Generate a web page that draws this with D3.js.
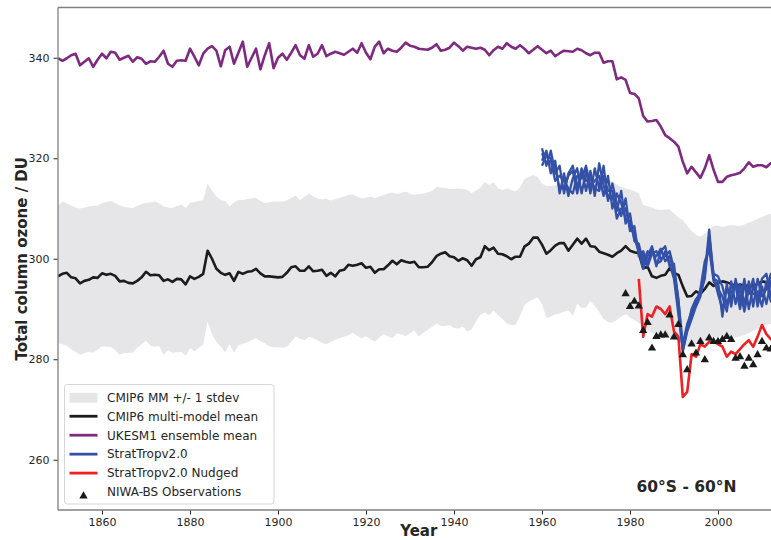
<!DOCTYPE html>
<html>
<head>
<meta charset="utf-8">
<script src="https://cdn.jsdelivr.net/npm/d3@7"></script>
<style>
  html, body { margin: 0; padding: 0; background: #ffffff; }
  svg { display: block; font-family: "DejaVu Sans", sans-serif; }
</style>
</head>
<body>
<svg id="chart" width="771" height="540"></svg>
<script>
// ---- data -------------------------------------------------------------
const startYear = 1850;           // first year of the historical runs
const xTicks = [1860, 1880, 1900, 1920, 1940, 1960, 1980, 2000];
const yTicks = [260, 280, 300, 320, 340];

// CMIP6 multi-model mean, 1850-2014 (DU)
const cmipMean = [
  296.5,297.0,297.2,296.3,296.1,295.1,295.6,295.8,296.3,296.2,
  297.1,296.8,297.0,296.6,295.5,295.6,295.2,295.1,295.6,296.3,
  297.4,296.7,296.8,296.7,295.6,295.9,295.4,296.0,295.9,294.9,
  296.5,296.0,296.4,297.0,301.6,300.0,298.0,297.2,296.8,297.1,
  295.6,297.4,297.0,297.4,297.5,298.0,297.1,296.5,296.5,296.4,
  296.3,296.4,297.2,298.3,298.5,297.6,297.6,298.5,297.5,297.6,
  297.8,296.6,297.2,296.5,297.6,297.8,298.8,298.6,298.8,299.1,
  298.2,298.4,297.2,297.9,297.9,298.7,299.6,298.9,299.7,299.4,
  299.2,299.4,298.3,298.3,298.4,299.3,300.5,301.0,301.3,300.5,
  300.3,299.6,300.1,299.7,298.6,299.9,300.3,302.5,301.7,302.2,
  301.0,300.9,300.5,299.9,300.4,300.4,302.4,303.0,304.2,304.2,
  302.8,301.0,301.7,302.6,303.1,303.1,301.6,302.8,304.0,303.0,
  304.0,302.5,302.4,301.4,301.1,300.8,300.4,301.1,301.6,302.5,
  301.6,301.3,301.1,298.1,298.4,296.5,296.2,296.6,296.8,298.1,
  297.2,296.8,294.5,292.5,292.6,293.5,293.0,294.0,295.3,294.6,
  295.2,295.5,295.3,295.0,294.6,294.8,294.7,294.5,294.6,295.0,
  295.5,295.3,295.2,295.4,295.3
];

// CMIP6 mean + 1 standard deviation
const cmipUpper = [
  310.6,311.4,311.0,310.6,310.2,310.0,310.2,310.4,310.5,310.6,
  311.1,311.3,311.5,311.1,310.6,310.3,310.2,310.1,310.5,310.9,
  311.1,311.2,311.4,311.0,310.4,310.2,310.1,310.5,310.8,310.1,
  311.1,311.3,311.5,311.7,315.0,313.6,312.4,311.7,311.5,310.4,
  311.2,311.7,311.7,311.9,312.0,312.1,311.5,311.1,311.2,311.4,
  311.4,311.4,311.6,312.1,312.6,311.7,312.3,313.0,312.4,312.0,
  311.8,311.9,311.6,311.9,312.1,312.4,312.7,312.8,312.4,312.0,
  312.2,312.4,312.1,312.4,312.7,313.0,313.2,312.9,313.1,313.4,
  313.0,312.7,312.9,313.0,313.2,313.5,314.3,314.2,314.1,313.9,
  313.9,314.0,313.9,313.7,313.1,313.6,314.2,315.3,314.7,315.2,
  314.0,313.7,314.0,313.7,313.4,314.2,315.8,316.3,316.6,316.3,
  315.0,314.5,314.5,314.6,315.0,315.3,315.5,315.8,316.0,316.2,
  316.3,316.0,315.8,316.0,316.2,315.8,315.3,314.8,314.3,314.0,
  313.8,313.5,313.0,310.7,310.5,310.2,309.8,309.7,309.8,309.8,
  309.0,308.2,307.7,306.6,305.5,304.8,304.4,305.0,305.8,306.5,
  306.6,306.3,306.5,306.7,306.6,306.5,306.8,307.2,307.5,307.9,
  308.3,308.7,309.0,309.2,309.3
];

// CMIP6 mean - 1 standard deviation
const cmipLower = [
  283.2,283.0,282.7,282.0,281.5,280.9,281.2,281.5,281.3,281.9,
  282.6,282.5,282.5,281.8,280.9,281.2,281.3,281.3,282.3,283.0,
  283.7,282.7,282.5,282.6,280.9,281.8,281.3,281.4,281.5,280.7,
  282.2,281.6,282.3,282.9,287.5,285.0,283.5,282.5,281.4,283.0,
  281.3,282.8,283.1,283.4,283.8,284.2,283.6,283.2,282.6,282.4,
  282.4,282.3,282.5,283.5,284.5,284.1,283.8,284.5,284.2,283.8,
  283.3,283.0,283.5,283.9,284.2,284.5,284.8,285.2,284.7,284.2,
  284.6,284.0,283.5,284.3,285.0,284.6,284.2,285.1,285.0,284.6,
  285.2,285.7,284.6,285.2,285.8,286.4,287.1,286.6,286.6,286.8,
  286.2,286.1,286.5,285.5,285.9,287.5,288.8,289.3,288.8,289.7,
  288.8,288.0,287.1,286.8,286.8,288.6,290.8,291.5,291.9,292.3,
  291.0,288.2,288.5,288.9,289.1,289.5,289.7,288.6,291.0,290.2,
  290.3,291.6,290.6,289.4,288.0,287.4,287.3,287.8,288.5,289.0,
  288.3,287.8,287.2,286.3,285.7,285.2,285.0,284.8,284.5,284.3,
  284.0,283.5,283.0,282.6,282.6,283.0,283.2,283.6,284.0,284.3,
  284.5,284.6,284.5,284.3,284.3,284.6,284.8,285.2,285.6,286.0,
  286.4,286.8,287.0,287.2,287.4
];

// UKESM1 ensemble mean, 1850-2014
const ukesmMean = [
  339.9,339.4,339.9,340.5,340.8,338.5,339.2,339.9,338.2,339.6,
  340.8,339.9,341.2,341.0,339.6,340.0,340.4,339.2,340.1,339.8,
  338.8,339.3,339.2,340.2,341.4,338.8,338.2,339.4,339.5,339.4,
  341.8,340.2,338.5,340.8,341.8,342.3,341.4,338.3,341.5,342.2,
  338.8,341.0,343.2,338.2,340.0,341.8,337.7,340.5,342.9,337.9,
  340.0,340.8,339.6,341.0,342.5,340.5,339.8,342.5,340.2,340.8,
  342.5,340.3,340.8,341.2,340.9,340.6,341.2,341.8,341.0,342.9,
  341.0,339.7,342.2,343.2,340.9,341.8,341.4,341.2,342.0,343.0,
  342.4,342.2,341.8,341.7,341.6,342.0,342.7,341.4,341.6,342.0,
  343.0,342.3,341.4,342.2,342.0,341.8,342.0,341.6,340.5,341.5,
  342.2,341.8,342.9,342.2,341.8,342.5,341.8,340.9,341.6,342.3,
  341.6,340.9,341.4,340.3,340.9,341.4,341.3,341.2,341.8,341.5,
  340.9,340.5,341.0,341.0,339.0,339.3,339.3,335.7,336.1,335.6,
  333.0,332.8,331.9,328.4,327.3,327.4,327.6,326.3,324.6,324.0,
  323.3,322.3,319.3,317.0,318.3,317.2,316.1,318.0,320.6,317.7,
  315.3,315.3,316.3,316.6,316.8,317.1,318.0,319.2,318.3,318.6,
  318.6,318.2,319.0,318.6,318.8
];

// StratTropv2.0 ensemble members, 1960-2014
const stratTropStart = 1960;
const stratTropRun1 = [
  322.0,318.5,321.5,317.0,318.5,313.0,317.0,318.5,314.0,318.0,
  313.5,317.5,312.5,319.0,314.5,312.0,312.5,309.5,313.5,307.0,
  309.0,303.5,303.0,299.0,301.5,301.0,300.5,302.0,299.5,300.5,
  297.5,290.0,281.5,285.5,288.0,290.5,292.5,297.0,305.8,296.0,
  295.5,288.5,295.0,290.5,296.0,291.5,296.0,290.0,294.5,292.0,
  296.0,297.0,292.5,295.0,296.0
];
const stratTropRun2 = [
  319.5,321.5,317.0,319.5,313.0,317.0,312.5,316.0,318.0,313.0,
  317.5,313.0,318.0,314.0,318.5,311.5,315.0,311.0,308.5,312.0,
  305.5,306.5,300.5,301.5,299.0,302.0,298.5,301.5,302.5,298.5,
  299.0,291.5,283.0,287.0,289.5,291.0,294.0,299.5,302.0,295.5,
  294.0,292.5,289.5,295.5,291.0,295.0,291.0,295.5,290.5,296.0,
  292.5,294.0,297.0,292.0,294.0
];
const stratTropRun3 = [
  321.0,319.0,319.5,315.5,316.5,315.5,314.0,313.0,316.5,316.0,
  318.5,314.5,315.5,316.5,312.5,316.5,310.0,313.0,311.0,308.0,
  307.5,304.0,301.5,298.0,300.5,302.5,299.0,299.5,301.5,299.0,
  296.0,289.0,282.0,286.0,290.0,292.0,293.0,296.0,304.5,297.0,
  296.5,294.5,291.0,293.5,294.5,290.0,294.5,293.0,296.0,290.5,
  294.5,291.0,295.5,296.5,293.0
];
const stratTropRun4 = [
  318.5,320.5,320.0,318.0,314.0,314.0,316.5,317.5,313.0,317.0,
  315.5,316.0,314.0,313.5,316.5,313.5,313.5,308.0,310.0,310.0,
  306.0,305.0,302.0,300.5,298.5,301.0,301.5,300.0,300.5,301.5,
  298.0,292.0,281.8,286.5,288.5,291.5,293.5,298.0,303.0,296.5,
  293.0,290.0,294.0,292.0,295.5,293.5,289.5,294.0,293.0,293.5,
  290.5,295.5,291.5,293.5,296.0
];

// StratTropv2.0 nudged run, 1982-2014
const nudgedStart = 1982;
const nudgedRun = [
  296.0,284.5,289.0,288.5,290.5,290.0,289.0,290.5,285.5,284.5,
  272.5,273.5,281.0,280.5,283.0,282.5,283.5,283.5,283.0,282.5,
  280.5,281.5,281.0,282.0,283.0,283.8,282.5,284.5,286.8,285.0,
  284.0,285.0,285.5
];

// NIWA-BS observations
const obsYears = [
  1979,1980,1981,1982,1983,1984,1985,1986,1987,1988,
  1989,1990,1991,1992,1993,1994,1995,1996,1997,1998,
  1999,2000,2001,2002,2003,2004,2005,2006,2007,2008,
  2009,2010,2011,2012
];
const obsValues = [
  293.0,290.5,291.5,290.6,285.7,287.3,282.2,284.5,284.8,284.8,
  288.8,284.4,286.9,280.9,277.9,283.0,281.2,283.5,279.9,284.2,
  283.5,283.5,283.9,284.5,283.9,280.2,280.5,278.6,280.2,278.9,
  280.9,283.5,282.2,282.0
];

const legendLabels = [
  "CMIP6 MM +/- 1 stdev",
  "CMIP6 multi-model mean",
  "UKESM1 ensemble mean",
  "StratTropv2.0",
  "StratTropv2.0 Nudged",
  "NIWA-BS Observations"
];

// ---- layout -----------------------------------------------------------
const colors = {
  band: "#e6e6e9",
  mean: "#1c1c1c",
  ukesm: "#7d2a80",
  strat: "#3451a8",
  nudged: "#ee2024",
  obs: "#1a1a1a",
  spine: "#808080",
  text: "#262626"
};

const svg = d3.select("#chart");
const plot = { left: 58, top: 7.5, bottom: 510 };

const x = d3.scaleLinear().domain([1850, 2014]).range([plot.left, plot.left + 164 * 4.4]);
const y = d3.scaleLinear().domain([250, 350]).range([plot.bottom, plot.top]);

const toSeries = (start, vals) => vals.map((v, i) => ({ year: start + i, v }));

svg.append("defs").append("clipPath").attr("id", "plotClip")
  .append("rect")
  .attr("x", plot.left).attr("y", plot.top)
  .attr("width", x.range()[1] - plot.left)
  .attr("height", plot.bottom - plot.top);

const g = svg.append("g").attr("clip-path", "url(#plotClip)");

// +/- 1 stdev band
const bandData = cmipMean.map((m, i) => ({ year: startYear + i, lo: cmipLower[i], hi: cmipUpper[i] }));
g.append("path")
  .datum(bandData)
  .attr("fill", colors.band)
  .attr("d", d3.area().x(d => x(d.year)).y0(d => y(d.lo)).y1(d => y(d.hi)));

const line = d3.line().x(d => x(d.year)).y(d => y(d.v));

function drawLine(data, color, width) {
  g.append("path")
    .datum(data)
    .attr("fill", "none")
    .attr("stroke", color)
    .attr("stroke-width", width)
    .attr("stroke-linejoin", "round")
    .attr("stroke-linecap", "butt")
    .attr("d", line);
}

drawLine(toSeries(startYear, cmipMean), colors.mean, 2.6);
drawLine(toSeries(startYear, ukesmMean), colors.ukesm, 2.6);
[stratTropRun1, stratTropRun2, stratTropRun3, stratTropRun4].forEach(run =>
  drawLine(toSeries(stratTropStart, run), colors.strat, 2.3));
drawLine(toSeries(nudgedStart, nudgedRun), colors.nudged, 2.6);

// observation markers
const tri = d3.symbol().type(d3.symbolTriangle).size(30);
g.selectAll("path.obs")
  .data(obsYears.map((yr, i) => ({ year: yr, v: obsValues[i] })))
  .enter().append("path")
  .attr("class", "obs")
  .attr("d", tri)
  .attr("fill", colors.obs)
  .attr("transform", d => `translate(${x(d.year)},${y(d.v)})`);

// ---- axes -------------------------------------------------------------
const xAxis = svg.append("g")
  .attr("transform", `translate(0,${plot.bottom})`)
  .call(d3.axisBottom(x).tickValues(xTicks).tickFormat(d3.format("d")).tickSize(4.5).tickPadding(4));
const yAxis = svg.append("g")
  .attr("transform", `translate(${plot.left},0)`)
  .call(d3.axisLeft(y).tickValues(yTicks).tickSize(4.5).tickPadding(4));

[xAxis, yAxis].forEach(a => {
  a.select(".domain").remove();
  a.selectAll(".tick line").attr("stroke", colors.text).attr("stroke-width", 1);
  a.selectAll(".tick text")
    .attr("fill", colors.text)
    .style("font-size", "11px")
    .style("font-family", "DejaVu Sans, sans-serif");
});

// frame (left, top and bottom spines)
const spine = (x1, y1, x2, y2) => svg.append("line")
  .attr("x1", x1).attr("y1", y1).attr("x2", x2).attr("y2", y2)
  .attr("stroke", colors.spine).attr("stroke-width", 1.3);
spine(plot.left, plot.top, plot.left, plot.bottom);
spine(plot.left, plot.top, x.range()[1], plot.top);
spine(plot.left, plot.bottom, x.range()[1], plot.bottom);

// axis titles
svg.append("text")
  .attr("transform", `translate(27,${(plot.top + plot.bottom) / 2}) rotate(-90)`)
  .attr("text-anchor", "middle")
  .attr("fill", colors.text)
  .style("font-size", "15px")
  .style("font-weight", "bold")
  .text("Total column ozone / DU");

svg.append("text")
  .attr("x", (plot.left + x.range()[1]) / 2)
  .attr("y", 535.5)
  .attr("text-anchor", "middle")
  .attr("fill", colors.text)
  .style("font-size", "15px")
  .style("font-weight", "bold")
  .text("Year");

// region annotation
svg.append("text")
  .attr("x", 636.5)
  .attr("y", 491.5)
  .attr("fill", colors.text)
  .style("font-size", "15.5px")
  .style("font-weight", "bold")
  .text("60°S - 60°N");

// ---- legend -----------------------------------------------------------
const legend = svg.append("g").attr("transform", "translate(64.5,384.5)");
legend.append("rect")
  .attr("width", 209.5).attr("height", 119.5).attr("rx", 3)
  .attr("fill", "#ffffff").attr("fill-opacity", 0.8)
  .attr("stroke", "#d6d6d6").attr("stroke-width", 1);

const rowY = i => 12.8 + i * 18.95;
const handleX0 = 5, handleX1 = 33, textX = 42.5;

legendLabels.forEach((label, i) => {
  const cy = rowY(i);
  if (i === 0) {
    legend.append("rect")
      .attr("x", handleX0).attr("y", cy - 4.5)
      .attr("width", handleX1 - handleX0).attr("height", 10)
      .attr("fill", colors.band);
  } else if (i === 5) {
    legend.append("path")
      .attr("d", tri)
      .attr("fill", colors.obs)
      .attr("transform", `translate(${(handleX0 + handleX1) / 2},${cy + 4})`);
  } else {
    const c = [null, colors.mean, colors.ukesm, colors.strat, colors.nudged][i];
    legend.append("line")
      .attr("x1", handleX0).attr("x2", handleX1)
      .attr("y1", cy).attr("y2", cy)
      .attr("stroke", c).attr("stroke-width", 2.8);
  }
  legend.append("text")
    .attr("x", textX).attr("y", cy + 4.3)
    .attr("fill", colors.text)
    .style("font-size", "12px")
    .text(label);
});
</script>
</body>
</html>
